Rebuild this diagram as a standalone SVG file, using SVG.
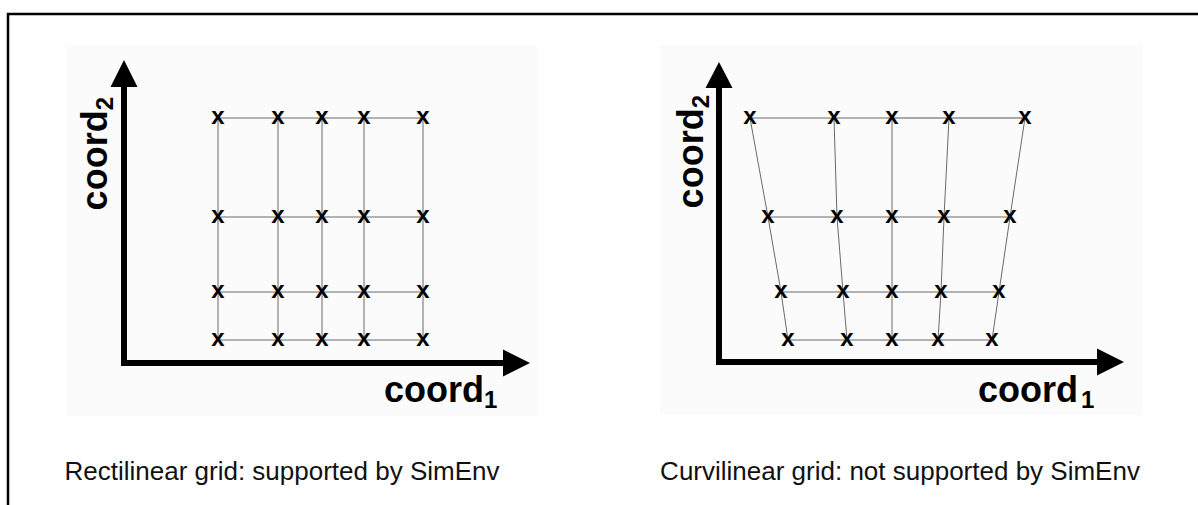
<svg xmlns="http://www.w3.org/2000/svg" width="1198" height="505" viewBox="0 0 1198 505">
  <style>
    .frame { stroke: #000; stroke-width: 2.5; fill: none; }
    .panel { fill: #fbfbfb; }
    .axis { stroke: #000; stroke-width: 6; fill: none; }
    .head { fill: #000; }
    .grid { stroke: #6a6a6a; stroke-width: 1; fill: none; }
    .grid-lt { stroke: #a8a8a8; stroke-width: 2; fill: none; }
    .m { font-family: "Liberation Sans", Arial, sans-serif; font-weight: bold; font-size: 24px; text-anchor: middle; fill: #000; }
    .lbl { font-family: "Liberation Sans", Arial, sans-serif; font-weight: bold; font-size: 36px; fill: #000; }
    .sub { font-size: 24px; }
    .cap { font-family: "Liberation Sans", Arial, sans-serif; font-size: 26px; text-anchor: middle; fill: #111; }
  </style>

  <rect width="1198" height="505" fill="#fff"/>

  <!-- outer frame: top and left edges only -->
  <path class="frame" d="M8 505 V14 H1198"/>

  <!-- ============ Rectilinear panel ============ -->
  <g id="rect-panel">
    <rect class="panel" x="67" y="45" width="471" height="372"/>
    <g id="rect-axes">
      <path class="axis" d="M124 86 V363 H503"/>
      <polygon class="head" points="124,60 137.5,87 110.5,87"/>
      <polygon class="head" points="530,363 503,349.5 503,376.5"/>
      <text class="lbl" x="384" y="402">coord<tspan class="sub" dy="6">1</tspan></text>
      <text class="lbl" transform="translate(107,97) rotate(-90)" text-anchor="end">coord<tspan class="sub" dy="6">2</tspan></text>
    </g>
    <text id="rect-caption" class="cap" x="282" y="480">Rectilinear grid: supported by SimEnv</text>
  </g>

  <!-- ============ Curvilinear panel ============ -->
  <g id="curv-panel">
    <rect class="panel" x="660" y="45" width="482" height="370"/>
    <g id="curv-axes">
      <path class="axis" d="M719 87 V362 H1097"/>
      <polygon class="head" points="719,62 732.5,88 705.5,88"/>
      <polygon class="head" points="1124,362 1097,348.5 1097,375.5"/>
      <text class="lbl" x="978" y="402">coord<tspan class="sub" dx="3" dy="6">1</tspan></text>
      <text class="lbl" transform="translate(703,95) rotate(-90)" text-anchor="end">coord<tspan class="sub" dy="6">2</tspan></text>
    </g>
    <text id="curv-caption" class="cap" x="900" y="480">Curvilinear grid: not supported by SimEnv</text>
  </g>

  <!-- connectors between grid points -->
  <g id="connectors">
    <!-- rectilinear rows -->
    <path class="grid" d="M218 118 H423 M218 217 H423 M218 292 H423 M218 340 H423"/>
    <!-- rectilinear columns -->
    <path class="grid" d="M218 118 V340 M278 118 V340 M322 118 V340 M364 118 V340 M423 118 V340"/>
    <!-- curvilinear rows -->
    <path class="grid" d="M750 118 H892"/>
    <path class="grid-lt" d="M892 118 H1025"/>
    <path class="grid" d="M768 217 H1010 M781 292 H999 M788 340 H992"/>
    <!-- curvilinear columns -->
    <path class="grid" d="M750 118 L768 217 L781 292 L788 340"/>
    <path class="grid" d="M834 118 L837 217 L843 292 L847 340"/>
    <path class="grid" d="M892 118 L892 217 L892 292 L892 340"/>
    <path class="grid" d="M949 118 L944 217 L941 292 L938 340"/>
    <path class="grid" d="M1025 118 L1010 217 L999 292 L992 340"/>
  </g>

  <!-- rectilinear grid points -->
  <g id="rect-nodes">
    <g id="r-1-1"><text class="m" x="218" y="124">x</text></g>
    <g id="r-1-2"><text class="m" x="278" y="124">x</text></g>
    <g id="r-1-3"><text class="m" x="322" y="124">x</text></g>
    <g id="r-1-4"><text class="m" x="364" y="124">x</text></g>
    <g id="r-1-5"><text class="m" x="423" y="124">x</text></g>
    <g id="r-2-1"><text class="m" x="218" y="223">x</text></g>
    <g id="r-2-2"><text class="m" x="278" y="223">x</text></g>
    <g id="r-2-3"><text class="m" x="322" y="223">x</text></g>
    <g id="r-2-4"><text class="m" x="364" y="223">x</text></g>
    <g id="r-2-5"><text class="m" x="423" y="223">x</text></g>
    <g id="r-3-1"><text class="m" x="218" y="298">x</text></g>
    <g id="r-3-2"><text class="m" x="278" y="298">x</text></g>
    <g id="r-3-3"><text class="m" x="322" y="298">x</text></g>
    <g id="r-3-4"><text class="m" x="364" y="298">x</text></g>
    <g id="r-3-5"><text class="m" x="423" y="298">x</text></g>
    <g id="r-4-1"><text class="m" x="218" y="346">x</text></g>
    <g id="r-4-2"><text class="m" x="278" y="346">x</text></g>
    <g id="r-4-3"><text class="m" x="322" y="346">x</text></g>
    <g id="r-4-4"><text class="m" x="364" y="346">x</text></g>
    <g id="r-4-5"><text class="m" x="423" y="346">x</text></g>
  </g>

  <!-- curvilinear grid points -->
  <g id="curv-nodes">
    <g id="c-1-1"><text class="m" x="750" y="124">x</text></g>
    <g id="c-1-2"><text class="m" x="834" y="124">x</text></g>
    <g id="c-1-3"><text class="m" x="892" y="124">x</text></g>
    <g id="c-1-4"><text class="m" x="949" y="124">x</text></g>
    <g id="c-1-5"><text class="m" x="1025" y="124">x</text></g>
    <g id="c-2-1"><text class="m" x="768" y="223">x</text></g>
    <g id="c-2-2"><text class="m" x="837" y="223">x</text></g>
    <g id="c-2-3"><text class="m" x="892" y="223">x</text></g>
    <g id="c-2-4"><text class="m" x="944" y="223">x</text></g>
    <g id="c-2-5"><text class="m" x="1010" y="223">x</text></g>
    <g id="c-3-1"><text class="m" x="781" y="298">x</text></g>
    <g id="c-3-2"><text class="m" x="843" y="298">x</text></g>
    <g id="c-3-3"><text class="m" x="892" y="298">x</text></g>
    <g id="c-3-4"><text class="m" x="941" y="298">x</text></g>
    <g id="c-3-5"><text class="m" x="999" y="298">x</text></g>
    <g id="c-4-1"><text class="m" x="788" y="346">x</text></g>
    <g id="c-4-2"><text class="m" x="847" y="346">x</text></g>
    <g id="c-4-3"><text class="m" x="892" y="346">x</text></g>
    <g id="c-4-4"><text class="m" x="938" y="346">x</text></g>
    <g id="c-4-5"><text class="m" x="992" y="346">x</text></g>
  </g>
</svg>
